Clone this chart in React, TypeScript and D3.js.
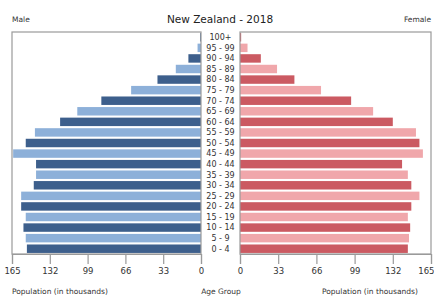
import React, { useEffect, useRef } from 'react';
import * as d3 from 'd3';

// age groups, bottom to top
const ageGroups = [
  '0 - 4', '5 - 9', '10 - 14', '15 - 19', '20 - 24', '25 - 29', '30 - 34',
  '35 - 39', '40 - 44', '45 - 49', '50 - 54', '55 - 59', '60 - 64', '65 - 69',
  '70 - 74', '75 - 79', '80 - 84', '85 - 89', '90 - 94', '95 - 99', '100+',
];
// population in thousands
const male = [152, 153, 155, 153, 157, 157, 146, 144, 144, 164, 153, 145, 123, 108, 87, 61, 38, 22, 11, 3, 0.7];
const female = [145, 146, 147, 145, 148, 155, 148, 145, 140, 158, 155, 152, 132, 115, 96, 70, 47, 32, 18, 6.5, 1];
const ticks = [0, 33, 66, 99, 132, 165];

const W = 434;
const H = 297;

export default function App() {
  const ref = useRef<SVGSVGElement>(null);

  useEffect(() => {
    const svg = d3.select(ref.current);
    svg.selectAll('*').remove();

    const top = 32;
    const bottom = 254;
    const font = 'DejaVu Sans, sans-serif';
    const frame = '#9a9a9a';

    const xL = d3.scaleLinear().domain([0, 165]).range([201, 12]);
    const xR = d3.scaleLinear().domain([0, 165]).range([240, 431]);
    const y = d3.scaleBand<string>()
      .domain([...ageGroups].reverse())
      .range([top, bottom])
      .paddingInner(0.2)
      .paddingOuter(0.1);

    const maleCol = ['#3d5f8c', '#8db0d9'];
    const femaleCol = ['#cb5a62', '#f0a7ab'];

    // bars
    svg.append('g')
      .selectAll('rect')
      .data(ageGroups)
      .enter()
      .append('rect')
      .attr('x', (d, i) => xL(male[i]))
      .attr('y', (d) => y(d)!)
      .attr('width', (d, i) => xL(0) - xL(male[i]))
      .attr('height', y.bandwidth())
      .attr('fill', (d, i) => maleCol[i % 2]);

    svg.append('g')
      .selectAll('rect')
      .data(ageGroups)
      .enter()
      .append('rect')
      .attr('x', xR(0))
      .attr('y', (d) => y(d)!)
      .attr('width', (d, i) => xR(female[i]) - xR(0))
      .attr('height', y.bandwidth())
      .attr('fill', (d, i) => femaleCol[i % 2]);

    // frames
    svg.append('rect')
      .attr('x', 12).attr('y', top)
      .attr('width', 201 - 12).attr('height', bottom - top)
      .attr('fill', 'none').attr('stroke', frame).attr('stroke-width', 1.2);
    svg.append('rect')
      .attr('x', 240).attr('y', top)
      .attr('width', 431 - 240).attr('height', bottom - top)
      .attr('fill', 'none').attr('stroke', frame).attr('stroke-width', 1.2);

    // axes
    const axL = svg.append('g')
      .attr('transform', `translate(0, ${bottom})`)
      .call(d3.axisBottom(xL).tickValues(ticks).tickSize(10).tickPadding(4));
    const axR = svg.append('g')
      .attr('transform', `translate(0, ${bottom})`)
      .call(d3.axisBottom(xR).tickValues(ticks).tickSize(10).tickPadding(4));
    [axL, axR].forEach((ax) => {
      ax.select('.domain').attr('stroke', frame).attr('stroke-width', 1.2);
      ax.selectAll('.tick line').attr('stroke', frame).attr('stroke-width', 1.2);
      ax.selectAll('.tick text')
        .attr('fill', '#333')
        .attr('font-size', 8.5)
        .attr('font-family', font);
    });
    // keep the last right-hand label inside the window
    axR.selectAll('.tick text')
      .filter((d) => d === 165)
      .attr('text-anchor', 'end')
      .attr('dx', 3);

    // age labels
    svg.append('g')
      .selectAll('text')
      .data(ageGroups)
      .enter()
      .append('text')
      .attr('x', 220.5)
      .attr('y', (d) => y(d)! + y.bandwidth() / 2)
      .attr('dy', '0.35em')
      .attr('text-anchor', 'middle')
      .attr('font-size', 8)
      .attr('font-family', font)
      .attr('fill', '#333')
      .text((d) => d);

    // titles
    svg.append('text')
      .attr('x', 220).attr('y', 23)
      .attr('text-anchor', 'middle')
      .attr('font-size', 10.5).attr('font-family', font).attr('fill', '#222')
      .text('New Zealand - 2018');
    svg.append('text')
      .attr('x', 12).attr('y', 22)
      .attr('font-size', 7.5).attr('font-family', font).attr('fill', '#333')
      .text('Male');
    svg.append('text')
      .attr('x', 431).attr('y', 22)
      .attr('text-anchor', 'end')
      .attr('font-size', 7.5).attr('font-family', font).attr('fill', '#333')
      .text('Female');

    svg.append('text')
      .attr('x', 12).attr('y', 294)
      .attr('font-size', 7.5).attr('font-family', font).attr('fill', '#333')
      .text('Population (in thousands)');
    svg.append('text')
      .attr('x', 221).attr('y', 294)
      .attr('text-anchor', 'middle')
      .attr('font-size', 7.5).attr('font-family', font).attr('fill', '#333')
      .text('Age Group');
    svg.append('text')
      .attr('x', 322).attr('y', 294)
      .attr('font-size', 7.5).attr('font-family', font).attr('fill', '#333')
      .text('Population (in thousands)');
  }, []);

  return (
    <svg
      ref={ref}
      width={W}
      height={H}
      style={{ position: 'absolute', left: 0, top: 0, background: '#fff' }}
    />
  );
}
